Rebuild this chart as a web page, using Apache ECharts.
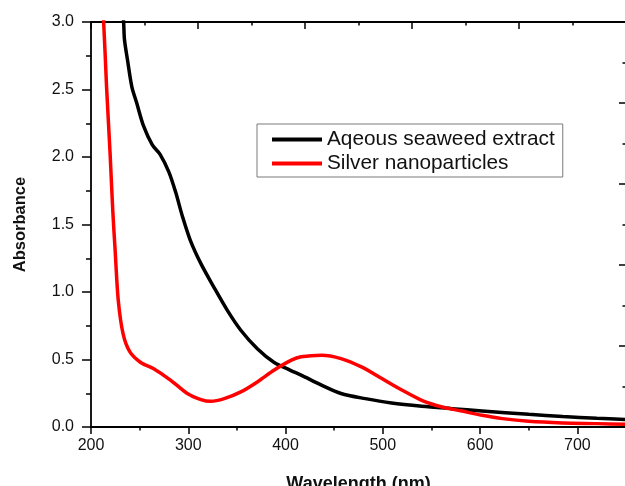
<!DOCTYPE html>
<html>
<head>
<meta charset="utf-8">
<script src="https://cdn.jsdelivr.net/npm/echarts@6/dist/echarts.min.js"></script>
<style>html,body{margin:0;padding:0;background:#fff}#c{width:625px;height:486px}</style>
</head>
<body>
<div id="c"></div>
<script>
var seriesNames = ['Aqeous seaweed extract', 'Silver nanoparticles'];
var extractWl = [230, 233.5, 234.4, 237.5, 242, 247, 254, 263, 271, 280, 287, 294, 302, 313, 326, 340, 354, 371, 388, 405, 416, 437, 457, 482, 509, 540, 571, 602, 650, 685, 720, 750];
var extractAbs = [3.25, 3.0, 2.87, 2.72, 2.52, 2.40, 2.23, 2.09, 2.02, 1.89, 1.74, 1.56, 1.385, 1.21, 1.04, 0.866, 0.717, 0.58, 0.48, 0.42, 0.384, 0.31, 0.248, 0.21, 0.178, 0.154, 0.136, 0.119, 0.094, 0.078, 0.065, 0.055];
var silverWl = [210, 213, 216, 219.6, 222.4, 224.8, 228, 233, 240, 250.7, 264, 282, 299, 313, 323, 337, 354, 371, 388, 406, 416, 437, 457, 478, 499, 520, 540, 561, 580, 602, 623, 650, 685, 720, 750];
var silverAbs = [3.3, 3.0, 2.52, 2.03, 1.6, 1.31, 0.94, 0.69, 0.556, 0.48, 0.433, 0.346, 0.248, 0.203, 0.19, 0.21, 0.26, 0.334, 0.42, 0.495, 0.52, 0.532, 0.507, 0.445, 0.359, 0.272, 0.198, 0.148, 0.12, 0.087, 0.062, 0.042, 0.03, 0.025, 0.02];

function pairs(xs, ys) { return xs.map(function (x, i) { return [x, ys[i]]; }); }

var font = '"Liberation Sans", Arial, sans-serif';
var axisLine = { show: true, onZero: false, lineStyle: { color: '#000', width: 1.8 } };
var chart = echarts.init(document.getElementById('c'));
chart.setOption({
  animation: false,
  backgroundColor: '#fff',
  grid: { left: 91, right: -1, top: 22, bottom: 59, containLabel: false, outerBoundsMode: 'none' },
  legend: {
    orient: 'vertical',
    left: 257, top: 124,
    icon: 'rect',
    itemWidth: 50, itemHeight: 4, itemGap: 3,
    padding: [5, 8, 3, 15],
    borderColor: '#7a7a7a', borderWidth: 1,
    textStyle: { fontFamily: font, fontSize: 20.8, lineHeight: 20, color: '#111' },
    data: seriesNames
  },
  xAxis: [{
    type: 'value', position: 'bottom', min: 200, max: 750, interval: 100,
    name: 'Wavelength (nm)', nameLocation: 'middle', nameGap: 48,
    nameTextStyle: { fontFamily: font, fontSize: 18, fontWeight: 'bold', color: '#111' },
    axisLine: axisLine,
    axisTick: { show: true, inside: false, length: 7, lineStyle: { color: '#000', width: 1.5 } },
    minorTick: { show: true, splitNumber: 2, length: 3.5, lineStyle: { color: '#000', width: 1.5 } },
    axisLabel: { fontFamily: font, fontSize: 16, color: '#111', margin: 11, showMaxLabel: false },
    splitLine: { show: false }
  }, {
    type: 'value', position: 'top', min: 0, max: 10, interval: 2,
    axisLine: axisLine,
    axisTick: { show: true, inside: true, length: 7, lineStyle: { color: '#000', width: 1.5 } },
    minorTick: { show: true, splitNumber: 2, length: 3.5, lineStyle: { color: '#000', width: 1.5 } },
    axisLabel: { show: false },
    splitLine: { show: false }
  }],
  yAxis: [{
    type: 'value', position: 'left', min: 0, max: 3, interval: 0.5,
    name: 'Absorbance', nameLocation: 'middle', nameGap: 62,
    nameTextStyle: { fontFamily: font, fontSize: 16.5, fontWeight: 'bold', color: '#111' },
    axisLine: axisLine,
    axisTick: { show: true, inside: false, length: 9, lineStyle: { color: '#000', width: 1.5 } },
    minorTick: { show: true, splitNumber: 2, length: 5, lineStyle: { color: '#000', width: 1.5 } },
    axisLabel: { fontFamily: font, fontSize: 16, color: '#111', margin: 17, formatter: function (v) { return v.toFixed(1); } },
    splitLine: { show: false }
  }, {
    type: 'value', position: 'right', min: 0, max: 3, interval: 0.6, alignTicks: false,
    axisLine: axisLine,
    axisTick: { show: true, inside: true, length: 7, lineStyle: { color: '#000', width: 1.5 } },
    minorTick: { show: true, splitNumber: 2, length: 3.5, lineStyle: { color: '#000', width: 1.5 } },
    axisLabel: { show: false },
    splitLine: { show: false }
  }],
  series: [{
    name: seriesNames[0], type: 'line', xAxisIndex: 0, yAxisIndex: 0,
    data: pairs(extractWl, extractAbs), smooth: 0.3, symbol: 'none', clip: true,
    lineStyle: { color: '#000', width: 3.5 }, itemStyle: { color: '#000' }
  }, {
    name: seriesNames[1], type: 'line', xAxisIndex: 0, yAxisIndex: 0,
    data: pairs(silverWl, silverAbs), smooth: 0.3, symbol: 'none', clip: true,
    lineStyle: { color: '#f00', width: 3.5 }, itemStyle: { color: '#f00' }
  }]
});
</script>
</body>
</html>
